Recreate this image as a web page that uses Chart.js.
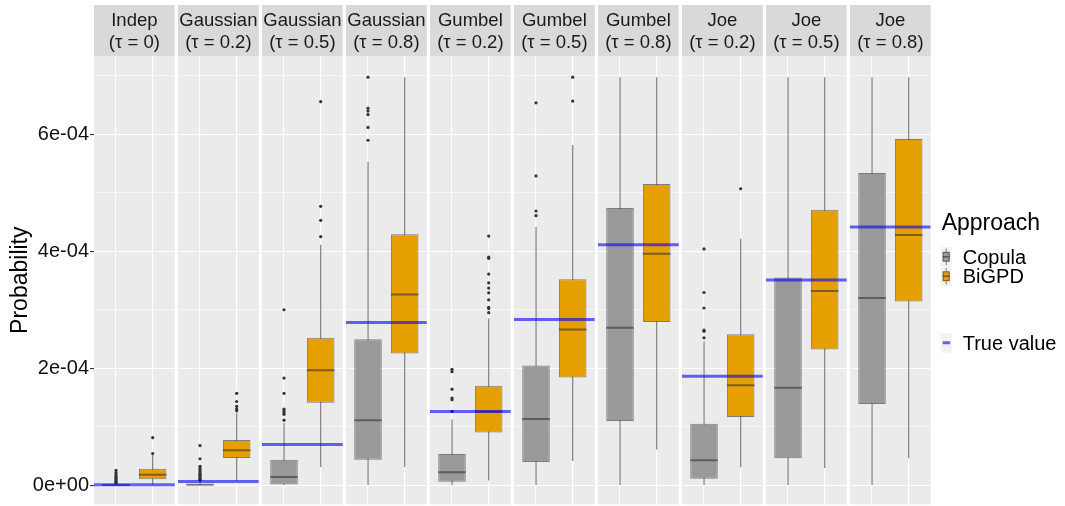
<!DOCTYPE html>
<html><head><meta charset="utf-8">
<script src="https://cdn.jsdelivr.net/npm/chart.js@4"></script>
<style>html,body{margin:0;padding:0;background:#fff}canvas{display:block}</style>
</head><body>
<canvas id="c" width="1065" height="506"></canvas>
<script>
// ---------- data ----------
const families = ['Indep','Gaussian','Gaussian','Gaussian','Gumbel','Gumbel','Gumbel','Joe','Joe','Joe'];
const taus = ['0','0.2','0.5','0.8','0.2','0.5','0.8','0.2','0.5','0.8'];
const approaches = ['Copula','BiGPD'];
const trueValue = [0.005e-4, 0.061e-4, 0.692e-4, 2.78e-4, 1.26e-4, 2.835e-4, 4.11e-4, 1.863e-4, 3.51e-4, 4.415e-4];

const copulaLow    = [0, 0, 0, 0, 0, 0, 0, 0, 0, 0];
const copulaQ1     = [0, 0, 0.01e-4, 0.435e-4, 0.055e-4, 0.395e-4, 1.095e-4, 0.11e-4, 0.46e-4, 1.385e-4];
const copulaMedian = [0.003e-4, 0.005e-4, 0.14e-4, 1.11e-4, 0.22e-4, 1.13e-4, 2.69e-4, 0.425e-4, 1.665e-4, 3.20e-4];
const copulaQ3     = [0.01e-4, 0.015e-4, 0.435e-4, 2.495e-4, 0.53e-4, 2.045e-4, 4.74e-4, 1.05e-4, 3.55e-4, 5.34e-4];
const copulaHigh   = [0.025e-4, 0.05e-4, 1.06e-4, 5.53e-4, 1.12e-4, 4.415e-4, 6.98e-4, 2.455e-4, 6.98e-4, 6.98e-4];
const copulaOutliers = [
  [0.04e-4, 0.05e-4, 0.07e-4, 0.09e-4, 0.11e-4, 0.13e-4, 0.15e-4, 0.18e-4, 0.21e-4, 0.25e-4],
  [0.08e-4, 0.1e-4, 0.12e-4, 0.14e-4, 0.16e-4, 0.18e-4, 0.2e-4, 0.23e-4, 0.26e-4, 0.29e-4, 0.32e-4, 0.45e-4, 0.675e-4],
  [1.11e-4, 1.21e-4, 1.24e-4, 1.27e-4, 1.30e-4, 1.57e-4, 1.83e-4, 3.0e-4],
  [5.90e-4, 6.12e-4, 6.34e-4, 6.40e-4, 6.45e-4, 6.98e-4],
  [1.26e-4, 1.46e-4, 1.49e-4, 1.64e-4, 1.94e-4, 1.98e-4],
  [4.61e-4, 4.69e-4, 5.29e-4, 6.54e-4],
  [],
  [2.52e-4, 2.63e-4, 2.65e-4, 3.03e-4, 3.295e-4, 4.04e-4],
  [],
  []
];

const bigpdLow    = [0, 0.07e-4, 0.31e-4, 0.31e-4, 0.08e-4, 0.41e-4, 0.61e-4, 0.305e-4, 0.29e-4, 0.46e-4];
const bigpdQ1     = [0.10e-4, 0.465e-4, 1.41e-4, 2.25e-4, 0.90e-4, 1.84e-4, 2.79e-4, 1.165e-4, 2.32e-4, 3.14e-4];
const bigpdMedian = [0.175e-4, 0.595e-4, 1.965e-4, 3.26e-4, 1.26e-4, 2.66e-4, 3.96e-4, 1.71e-4, 3.32e-4, 4.28e-4];
const bigpdQ3     = [0.28e-4, 0.77e-4, 2.52e-4, 4.29e-4, 1.70e-4, 3.52e-4, 5.15e-4, 2.58e-4, 4.71e-4, 5.92e-4];
const bigpdHigh   = [0.52e-4, 1.23e-4, 4.11e-4, 6.98e-4, 2.85e-4, 5.82e-4, 6.98e-4, 4.215e-4, 6.98e-4, 6.98e-4];
const bigpdOutliers = [
  [0.54e-4, 0.81e-4],
  [1.27e-4, 1.30e-4, 1.345e-4, 1.43e-4, 1.57e-4],
  [4.25e-4, 4.53e-4, 4.77e-4, 6.56e-4],
  [],
  [2.95e-4, 3.02e-4, 3.04e-4, 3.17e-4, 3.29e-4, 3.37e-4, 3.46e-4, 3.61e-4, 3.88e-4, 3.90e-4, 4.26e-4],
  [6.57e-4, 6.98e-4],
  [],
  [5.07e-4],
  [],
  []
];

const yTicks = [0, 1e-4, 2e-4, 3e-4, 4e-4, 5e-4, 6e-4, 7e-4];

// ---------- layout helpers ----------
const FONT = "'Liberation Sans', Arial, Helvetica, sans-serif";
const PANEL_W = 2.2, GAP = 0.09, PITCH = PANEL_W + GAP, BOX_W = 0.75;
const nP = families.length;
const panelLeft = i => i * PITCH;
const boxPos = (i, a) => panelLeft(i) + 0.6 + a;
const fills = ['#999999', '#E69F00'];
const EDGE = 'rgba(51,51,51,0.6)';
const WHISK = 'rgba(51,51,51,0.68)';
const BLUE = 'rgba(0,0,255,0.6)';

const stats = [
  {low: copulaLow, q1: copulaQ1, med: copulaMedian, q3: copulaQ3, high: copulaHigh, out: copulaOutliers},
  {low: bigpdLow, q1: bigpdQ1, med: bigpdMedian, q3: bigpdQ3, high: bigpdHigh, out: bigpdOutliers}
];

const halfPx = (chart, w) => {
  const s = chart.scales.x;
  return (s.getPixelForValue(w) - s.getPixelForValue(0)) / 2;
};
const isMajor = v => Math.round(v / 1e-4) % 2 === 0;
const sci = v => {
  if (Math.abs(v) < 1e-12) return '0e+00';
  const e = Math.floor(Math.log10(Math.abs(v)) + 1e-9);
  const m = Math.round(v / Math.pow(10, e));
  return m + 'e' + (e < 0 ? '-' : '+') + String(Math.abs(e)).padStart(2, '0');
};

// ---------- datasets (index 0 is drawn on top) ----------
const datasets = [];
datasets.push({
  type: 'scatter', label: 'True value',
  data: trueValue.map((v, i) => ({x: panelLeft(i) + PANEL_W / 2, y: v})),
  pointStyle: 'line',
  pointRadius: c => halfPx(c.chart, PANEL_W), pointHoverRadius: c => halfPx(c.chart, PANEL_W),
  borderColor: BLUE, pointBorderColor: BLUE, pointBorderWidth: 3, pointHoverBorderWidth: 3
});
approaches.forEach((ap, a) => {
  datasets.push({
    type: 'scatter', label: ap + ' median',
    data: stats[a].med.map((v, i) => ({x: boxPos(i, a), y: v})),
    pointStyle: 'line',
    pointRadius: c => halfPx(c.chart, BOX_W), pointHoverRadius: c => halfPx(c.chart, BOX_W),
    borderColor: EDGE, pointBorderColor: EDGE, pointBorderWidth: 2, pointHoverBorderWidth: 2
  });
});
approaches.forEach((ap, a) => {
  datasets.push({
    type: 'scatter', label: ap + ' outliers',
    data: stats[a].out.flatMap((arr, i) => arr.map(v => ({x: boxPos(i, a), y: v}))),
    pointRadius: 1.6, pointHoverRadius: 1.6, pointBorderWidth: 0,
    backgroundColor: '#333', pointBackgroundColor: '#333'
  });
});
approaches.forEach((ap, a) => {
  datasets.push({
    type: 'bar', label: ap,
    data: stats[a].q1.map((v, i) => ({x: boxPos(i, a), y: [v, stats[a].q3[i]]})),
    backgroundColor: fills[a], borderColor: EDGE, borderWidth: 1, borderSkipped: false,
    grouped: false, barPercentage: BOX_W, categoryPercentage: 1
  });
});
approaches.forEach((ap, a) => {
  datasets.push({
    type: 'line', label: ap + ' whiskers',
    data: stats[a].low.flatMap((v, i) => [
      {x: boxPos(i, a), y: v}, {x: boxPos(i, a), y: stats[a].high[i]}, {x: boxPos(i, a), y: null}
    ]),
    borderColor: WHISK, borderWidth: 1.1, pointRadius: 0, spanGaps: false, fill: false
  });
});

// ---------- facets, strips and legend ----------
const facetPlugin = {
  id: 'facets',
  beforeDraw(chart) {
    const {ctx, chartArea: ar, scales: {x}} = chart;
    ctx.save();
    for (let i = 0; i < nP; i++) {
      const l = x.getPixelForValue(panelLeft(i));
      const r = x.getPixelForValue(panelLeft(i) + PANEL_W);
      ctx.fillStyle = '#EBEBEB';
      ctx.fillRect(l, ar.top, r - l, ar.bottom - ar.top);
      ctx.fillStyle = '#D9D9D9';
      ctx.fillRect(l, 5, r - l, ar.top - 5);
      ctx.fillStyle = '#1A1A1A';
      ctx.font = '18.5px ' + FONT;
      ctx.textAlign = 'center';
      ctx.textBaseline = 'alphabetic';
      const cx = (l + r) / 2;
      ctx.fillText(families[i], cx, 25.5);
      ctx.fillText('(\u03C4 = ' + taus[i] + ')', cx, 48);
    }
    ctx.restore();
  },
  afterDraw(chart) {
    const {ctx, chartArea: ar} = chart;
    const x0 = ar.right + 10;
    ctx.save();
    ctx.fillStyle = '#000';
    ctx.textAlign = 'left';
    ctx.textBaseline = 'alphabetic';
    ctx.font = '23px ' + FONT;
    ctx.fillText('Approach', x0 + 1, 230);
    const kw = 11, kh = 19.5;
    approaches.forEach((ap, a) => {
      const ky = 247 + a * kh;
      ctx.fillStyle = '#F2F2F2';
      ctx.fillRect(x0, ky, kw, kh);
      ctx.strokeStyle = EDGE; ctx.lineWidth = 1;
      ctx.beginPath(); ctx.moveTo(x0 + kw / 2, ky + 1.5); ctx.lineTo(x0 + kw / 2, ky + kh - 1.5); ctx.stroke();
      ctx.fillStyle = fills[a];
      ctx.fillRect(x0 + 2, ky + kh * 0.25, kw - 4, kh * 0.5);
      ctx.strokeRect(x0 + 2.5, ky + kh * 0.25 + 0.5, kw - 5, kh * 0.5 - 1);
      ctx.lineWidth = 1.5;
      ctx.beginPath(); ctx.moveTo(x0 + 2, ky + kh / 2); ctx.lineTo(x0 + kw - 2, ky + kh / 2); ctx.stroke();
      ctx.fillStyle = '#000';
      ctx.font = '20px ' + FONT;
      ctx.fillText(ap, x0 + 22, ky + kh / 2 + 7);
    });
    const ty = 333;
    ctx.fillStyle = '#F2F2F2';
    ctx.fillRect(x0, ty, kw, kh);
    ctx.strokeStyle = BLUE; ctx.lineWidth = 3;
    ctx.beginPath(); ctx.moveTo(x0 + 2, ty + kh / 2); ctx.lineTo(x0 + kw - 1.5, ty + kh / 2); ctx.stroke();
    ctx.fillStyle = '#000';
    ctx.font = '20px ' + FONT;
    ctx.fillText('True value', x0 + 22, ty + kh / 2 + 7);
    ctx.restore();
  }
};

const xTickValues = [];
for (let i = 0; i < nP; i++) { xTickValues.push(boxPos(i, 0), boxPos(i, 1)); }

new Chart(document.getElementById('c'), {
  type: 'bar',
  data: {datasets},
  options: {
    responsive: false, animation: false, devicePixelRatio: 1, events: [],
    layout: {padding: {top: 56, right: 134.3, bottom: 0, left: 0}},
    plugins: {legend: {display: false}, tooltip: {enabled: false}},
    scales: {
      x: {
        type: 'linear', min: 0, max: nP * PITCH - GAP, offset: false,
        afterBuildTicks: s => { s.ticks = xTickValues.map(v => ({value: v})); },
        afterFit: s => { s.height = 0; s.paddingLeft = 0; s.paddingRight = 0; },
        ticks: {display: false, autoSkip: false},
        grid: {color: '#FFFFFF', lineWidth: 1.1, drawTicks: false, offset: false},
        border: {display: false}
      },
      y: {
        type: 'linear', min: -0.331e-4, max: 7.342e-4,
        afterBuildTicks: s => { s.ticks = yTicks.map(v => ({value: v})); },
        afterFit: s => { s.width = 94; s.paddingTop = 0; s.paddingBottom = 0; },
        ticks: {
          autoSkip: false, padding: 1, color: '#111',
          font: {size: 20, family: FONT},
          callback: v => isMajor(v) ? sci(v) : ''
        },
        grid: {
          color: '#FFFFFF',
          lineWidth: c => (c.tick && isMajor(c.tick.value)) ? 1.1 : 0.55,
          tickColor: c => (c.tick && isMajor(c.tick.value)) ? '#333333' : 'rgba(0,0,0,0)',
          tickWidth: 1.1, tickLength: 4, drawTicks: true
        },
        border: {display: false},
        title: {display: true, text: 'Probability', color: '#000', font: {size: 23, family: FONT}, padding: {top: 7, bottom: 0}}
      }
    }
  },
  plugins: [facetPlugin]
});
</script>
</body></html>
